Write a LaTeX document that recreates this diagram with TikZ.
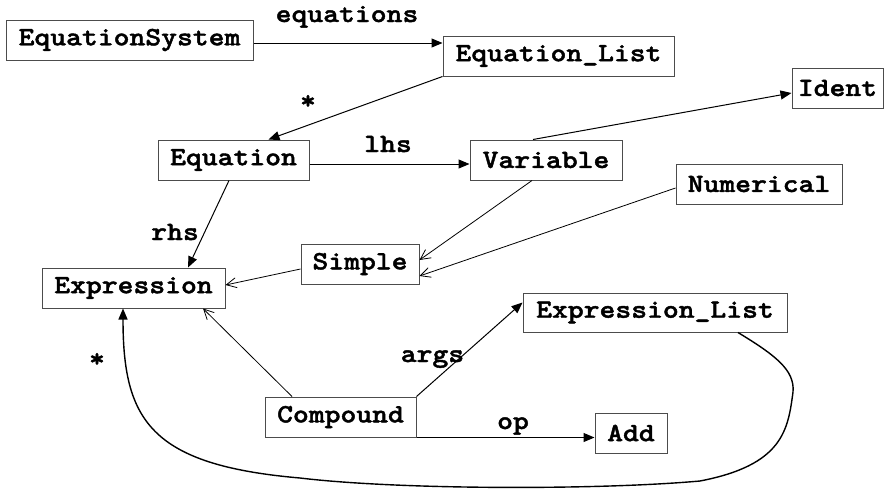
\documentclass[tikz,border=0pt]{standalone}
\usepackage{fontspec}
\usetikzlibrary{arrows.meta}
% heavy typewriter face at the usual 0.6em pitch
\newfontfamily\heavytt[FakeStretch=1.143,FakeBold=1.6]{lmmonolt10-bold.otf}
\begin{document}
\begin{tikzpicture}[x=1pt,y=-1pt,
  font=\heavytt\fontsize{26.4}{30}\selectfont,
  cls/.style={draw=black!70,line width=1pt,inner sep=0pt,rectangle},
  lbl/.style={inner sep=0pt,anchor=base},
  has/.style={line width=1pt,-{Triangle[length=11pt,width=9pt]}},
  isa/.style={line width=0.8pt,-{Straight Barb[length=10pt,width=10pt,line width=0.8pt]}}]
\useasboundingbox (0,0) rectangle (884,491);

% classes
\node[cls,minimum width=247pt,minimum height=40pt] (sys)    at (129.5,40)  {EquationSystem};
\node[cls,minimum width=231pt,minimum height=40pt] (elist)  at (558.5,56)  {Equation\_List};
\node[cls,minimum width=91pt, minimum height=40pt] (ident)  at (837.5,88)  {Ident};
\node[cls,minimum width=151pt,minimum height=40pt] (eq)     at (233.5,160) {Equation};
\node[cls,minimum width=152pt,minimum height=40pt] (var)    at (546,160)   {Variable};
\node[cls,minimum width=166pt,minimum height=40pt] (num)    at (759,184)   {Numerical};
\node[cls,minimum width=118pt,minimum height=40pt] (simple) at (360,264)   {Simple};
\node[cls,minimum width=183pt,minimum height=40pt] (expr)   at (133.5,288) {Expression};
\node[cls,minimum width=151pt,minimum height=40pt] (comp)   at (340.5,417) {Compound};
\node[cls,minimum width=264pt,minimum height=39pt] (exlist) at (655,312.5) {Expression\_List};
\node[cls,minimum width=72pt, minimum height=40pt] (add)    at (631,433)   {Add};

% associations
\draw[has] ([yshift=-3pt]sys.east) -- ([yshift=-3pt]sys.east -| elist.west);
\draw[has] (elist.south west) -- ([xshift=35pt]eq.north);
\draw[has] ([yshift=-4pt]eq.east) -- ([yshift=-4pt]eq.east -| var.west);
\draw[has] ([xshift=-13pt]var.north) -- ([yshift=-5pt]ident.west);
\draw[has] ([xshift=-4.5pt]eq.south) -- ([xshift=54.5pt]expr.north);
\draw[has] (comp.north east) -- ([yshift=10pt]exlist.west);
\draw[has] (comp.south east) -- (comp.south east -| add.west);

% generalisations
\draw[isa] ([xshift=-14pt]var.south) -- ([yshift=4pt]simple.east);
\draw[isa] ([yshift=-4pt]num.west) -- ([yshift=-12pt]simple.east);
\draw[isa] ([yshift=-5pt]simple.west) -- ([yshift=3pt]expr.east);
\draw[isa] ([xshift=-48.5pt]comp.north) -- ([xshift=69.5pt]expr.south);

% list elements back to Expression
\coordinate (c1) at (793,392);
\coordinate (c2) at (700,481);
\coordinate (c3) at (300,478);
\draw[line width=1.4pt,-{Triangle[length=11pt,width=9pt]}]
  ([xshift=83pt]exlist.south) .. controls (775,355) and (795,370) .. (c1)
  .. controls (788,430) and (783,465) .. (c2)
  .. controls (600,490) and (400,490) .. (c3)
  .. controls (150,465) and (123,420) .. ([xshift=-10.5pt]expr.south);

% role labels
\node[lbl] (lequations) at (347,22)  {equations};
\node[lbl] (lstar1)     at (308,109) {*};
\node[lbl] (llhs)       at (388,152) {lhs};
\node[lbl] (lrhs)       at (175,240) {rhs};
\node[lbl] (lstar2)     at (97,367)  {*};
\node[lbl] (largs)      at (432.5,362) {args};
\node[lbl] (lop)        at (513,429) {op};
\end{tikzpicture}
\end{document}
